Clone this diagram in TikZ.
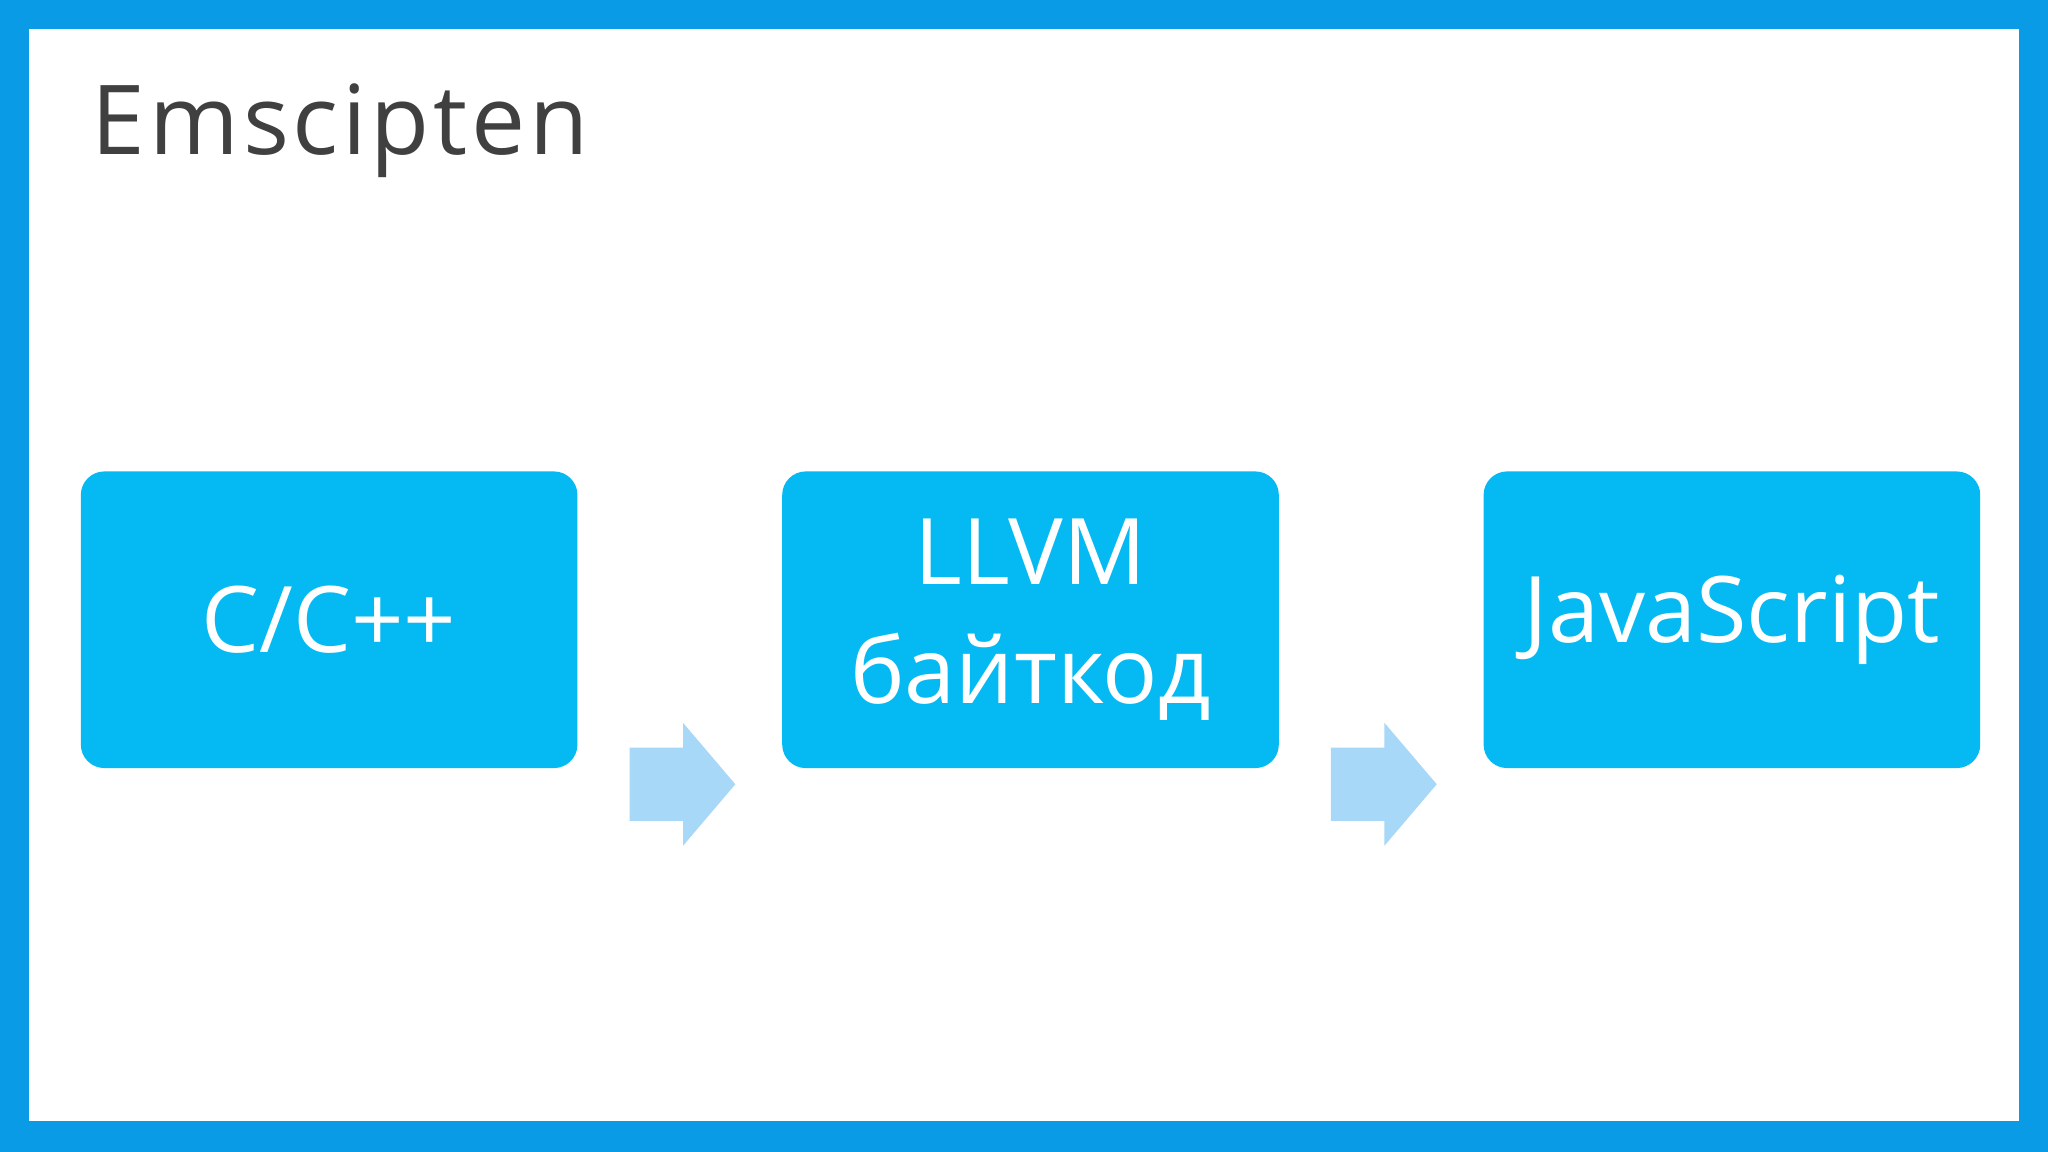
\documentclass[tikz,border=0pt]{standalone}
\usepackage{fontspec}
\setmainfont{Open Sans}
\definecolor{frameblue}{HTML}{0A9BE6}
\definecolor{boxblue}{HTML}{05BAF2}
\definecolor{arrowblue}{HTML}{A8D8F8}
\definecolor{titlegray}{HTML}{404040}
\begin{document}
\begin{tikzpicture}[x=0.01cm,y=-0.01cm,
  stage/.style={fill=boxblue,rounded corners=0.18cm,minimum width=3.8cm,minimum height=2.27cm,text=white,font=\fontsize{20}{26}\selectfont,align=center,inner sep=0pt},
  flowarrow/.style={fill=arrowblue}]
\fill[frameblue] (0,0) rectangle (1568,882);
\fill[white] (22,22) rectangle (1546,858);
\node[anchor=base west,text=titlegray,font=\fontsize{21}{24}\selectfont\addfontfeatures{LetterSpace=4}] (title) at (58,118) {Emscipten};
\node[stage] (cpp) at (252,474.5) {C/C++};
\node[stage] (llvm) at (789,474.5) {LLVM\\байткод};
\node[stage] (js) at (1326,474.5) {JavaScript};
\foreach \dx/\nm in {0/a1,537/a2}{
  \coordinate (\nm) at (482+\dx,474);
  \fill[flowarrow] ([yshift=-28]\nm) -- ++(41,0) -- ++(0,-19) -- ++(40,47) -- ++(-40,47) -- ++(0,-19) -- ++(-41,0) -- cycle;
}
\end{tikzpicture}
\end{document}
